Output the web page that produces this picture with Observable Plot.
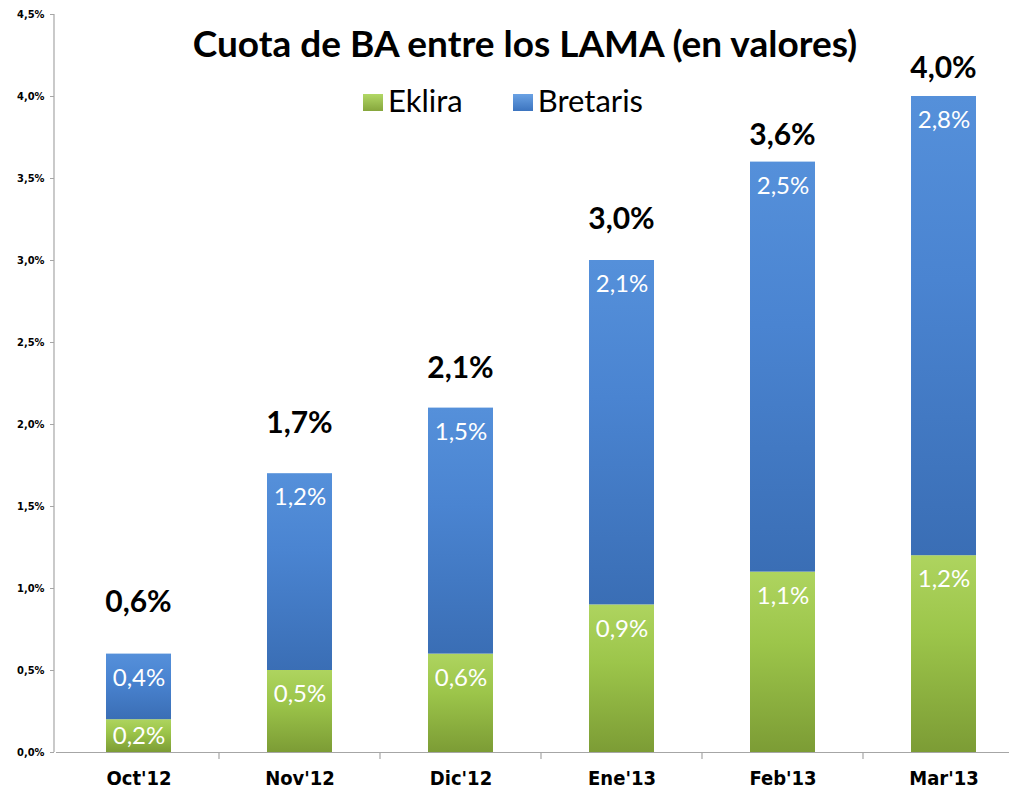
<!DOCTYPE html>
<html>
<head>
<meta charset="utf-8">
<script src="https://cdn.jsdelivr.net/npm/d3@7"></script>
<script src="https://cdn.jsdelivr.net/npm/@observablehq/plot@0.6"></script>
<style>
  html, body { margin: 0; padding: 0; background: #fff; overflow: hidden; }
  #wrap { position: relative; width: 1009px; height: 798px; overflow: hidden; }
  #title { position: absolute; left: 0; top: 20px; width: 1050px; text-align: center;
    font-family: Lato, "Open Sans", sans-serif; font-weight: 700; font-size: 37px; color: #000;
    pointer-events: none; }
  #legend { position: absolute; left: 363px; top: 81px; display: flex; align-items: center;
    font-family: Lato, "Open Sans", sans-serif; font-size: 31px; color: #000; }
  .sw { width: 20px; height: 17px; margin-right: 5px; margin-top: 4px; }
</style>
</head>
<body>
<div id="wrap">
  <div id="chart"></div>
  <div id="title">Cuota de BA entre los LAMA (en valores)</div>
  <div id="legend"></div>
</div>
<script>
const categories = ["Oct'12", "Nov'12", "Dic'12", "Ene'13", "Feb'13", "Mar'13"];
const seriesNames = ["Eklira", "Bretaris"];
const eklira = [0.2, 0.5, 0.6, 0.9, 1.1, 1.2];
const bretaris = [0.4, 1.2, 1.5, 2.1, 2.5, 2.8];
const totals = [0.6, 1.7, 2.1, 3.0, 3.6, 4.0];
const yTicks = [0, 0.5, 1, 1.5, 2, 2.5, 3, 3.5, 4, 4.5];

const fmt = v => v.toFixed(1).replace(".", ",") + "%";

const rows = [];
categories.forEach((c, i) => {
  rows.push({cat: c, series: "Eklira", y1: 0, y2: eklira[i], v: eklira[i]});
  rows.push({cat: c, series: "Bretaris", y1: eklira[i], y2: eklira[i] + bretaris[i], v: bretaris[i]});
});
const totalRows = categories.map((c, i) => ({cat: c, i, v: totals[i]}));

// style: vertical lift (px) of each total label above its bar
const totalLift = [52, 51, 40, 42, 27, 29];

const fills = {Eklira: "url(#gEk)", Bretaris: "url(#gBr)"};
const swatch = {Eklira: "linear-gradient(#b2d866, #86a63c)", Bretaris: "linear-gradient(#6aa2e4, #3c74bf)"};
const axisFont = "'DejaVu Sans Condensed', 'DejaVu Sans', sans-serif";

const leftLine = (index, scales, values, dim) => {
  const g = d3.create("svg:g");
  g.append("line")
    .attr("x1", dim.marginLeft - 2).attr("x2", dim.marginLeft - 2)
    .attr("y1", dim.marginTop).attr("y2", dim.height - dim.marginBottom)
    .attr("stroke", "#a6a6a6").attr("stroke-width", 1.2);
  return g.node();
};
const xBoundTicks = (index, scales, values, dim) => {
  const g = d3.create("svg:g");
  const x = scales.x;
  const bw = x.bandwidth();
  const y0 = dim.height - dim.marginBottom;
  categories.forEach(c => {
    const xb = x(c) + bw;
    g.append("line").attr("x1", xb).attr("x2", xb).attr("y1", y0).attr("y2", y0 + 7)
      .attr("stroke", "#a6a6a6").attr("stroke-width", 1.2);
  });
  return g.node();
};
const totalLabels = (index, scales, values, dim) => {
  const g = d3.create("svg:g")
    .attr("font-family", "Lato, 'Open Sans', sans-serif")
    .attr("font-size", 30).attr("font-weight", "bold")
    .attr("text-anchor", "middle").attr("fill", "black");
  totalRows.forEach(d => {
    g.append("text")
      .attr("x", scales.x(d.cat) + scales.x.bandwidth() / 2)
      .attr("y", scales.y(d.v) - totalLift[d.i])
      .attr("dy", "0.35em")
      .text(fmt(d.v));
  });
  return g.node();
};

const chart = Plot.plot({
  width: 1030,
  height: 798,
  marginLeft: 56,
  marginRight: 4,
  marginTop: 14,
  marginBottom: 46,
  style: {fontFamily: axisFont, background: "white", maxWidth: "none", overflow: "visible"},
  x: {domain: categories, padding: 0, axis: null},
  y: {domain: [0, 4.5], axis: null},
  marks: [
    Plot.barY(rows, {
      x: "cat", y1: "y1", y2: "y2",
      fill: d => fills[d.series],
      insetLeft: 48, insetRight: 48
    }),
    Plot.ruleY([0], {stroke: "#a6a6a6", strokeWidth: 1.2}),
    leftLine,
    xBoundTicks,
    Plot.axisY({
      ticks: yTicks, tickFormat: fmt, tickSize: 4, tickPadding: 6,
      fontWeight: "bold", fontSize: 11, stroke: "#a6a6a6", color: "#000", dx: -2, label: null
    }),
    Plot.axisX({
      tickSize: 0, tickPadding: 18, fontWeight: "bold", fontSize: 20, color: "#000", label: null
    }),
    Plot.text(rows, {
      x: "cat",
      y: d => Math.max(d.y2 - 0.146, (d.y1 + d.y2) / 2),
      text: d => fmt(d.v),
      fill: "white",
      fontSize: 24,
      fontFamily: "Lato, 'Open Sans', sans-serif"
    }),
    totalLabels
  ]
});

const svg = d3.select(chart);
const defs = svg.insert("defs", ":first-child");
const gEk = defs.append("linearGradient").attr("id", "gEk").attr("x1", 0).attr("y1", 0).attr("x2", 0).attr("y2", 1);
gEk.append("stop").attr("offset", "0%").attr("stop-color", "#aed45f");
gEk.append("stop").attr("offset", "40%").attr("stop-color", "#9cc54a");
gEk.append("stop").attr("offset", "100%").attr("stop-color", "#7c9c35");
const gBr = defs.append("linearGradient").attr("id", "gBr").attr("x1", 0).attr("y1", 0).attr("x2", 0).attr("y2", 1);
gBr.append("stop").attr("offset", "0%").attr("stop-color", "#5590da");
gBr.append("stop").attr("offset", "40%").attr("stop-color", "#4a84d1");
gBr.append("stop").attr("offset", "100%").attr("stop-color", "#3a6eb5");

document.getElementById("chart").appendChild(chart);

const legend = d3.select("#legend");
seriesNames.forEach((s, i) => {
  const item = legend.append("div").style("display", "flex").style("align-items", "center")
    .style("margin-right", i === 0 ? "50px" : "0");
  item.append("div").attr("class", "sw").style("background", swatch[s]);
  item.append("span").text(s);
});
</script>
</body>
</html>
